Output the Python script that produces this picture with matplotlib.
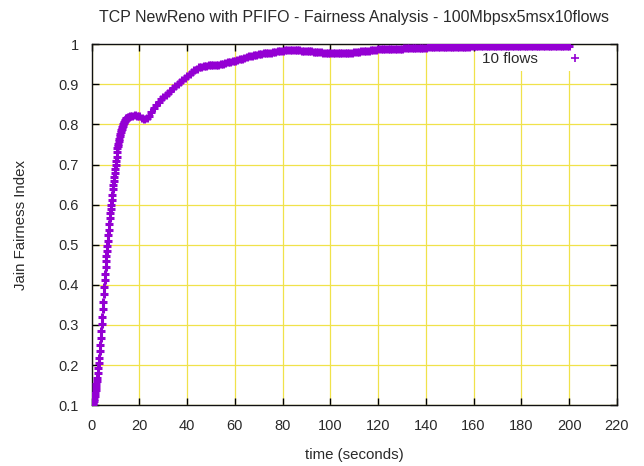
import matplotlib
matplotlib.use("Agg")
import matplotlib.pyplot as plt
import numpy as np

plt.rcParams['font.family'] = ['Liberation Sans', 'DejaVu Sans']

# ---- data ----
t_early = [0.2, 0.4, 0.6, 0.8, 1.0, 1.2, 1.4, 1.6, 1.8, 2.0, 2.2, 2.4, 2.6, 2.8, 3.0,
           3.2, 3.4, 3.6, 3.8, 4.0, 4.2, 4.4, 4.6, 4.8, 5.0, 5.2, 5.4, 5.6, 5.8, 6.0,
           6.2, 6.4, 6.6, 6.8, 7.0, 7.2, 7.4, 7.6, 7.8, 8.0, 8.2, 8.4, 8.6, 8.8, 9.0,
           9.2, 9.4, 9.6, 9.8, 10.0, 10.2, 10.4, 10.6, 10.8, 11.0, 11.2, 11.4, 11.6, 11.8, 12.0,
           12.2, 12.4, 12.6, 12.8, 13.0, 13.2, 13.4, 13.6, 13.8, 14.0, 14.2, 14.4, 14.6, 14.8, 15.0,
           15.5]
v_early = [0.100, 0.103, 0.106, 0.110, 0.115, 0.122, 0.130, 0.138, 0.146, 0.154, 0.161, 0.168, 0.180, 0.192, 0.204,
           0.218, 0.234, 0.251, 0.267, 0.285, 0.303, 0.321, 0.339, 0.357, 0.376, 0.395, 0.411, 0.428, 0.444, 0.460,
           0.472, 0.485, 0.497, 0.510, 0.524, 0.538, 0.552, 0.566, 0.578, 0.589, 0.600, 0.611, 0.623, 0.638, 0.650,
           0.660, 0.670, 0.680, 0.690, 0.700, 0.710, 0.720, 0.730, 0.740, 0.746, 0.752, 0.758, 0.764, 0.770, 0.776,
           0.781, 0.785, 0.789, 0.793, 0.797, 0.800, 0.803, 0.806, 0.809, 0.811, 0.813, 0.815, 0.816, 0.817, 0.818,
           0.819]

t_late = list(range(16, 201))
v_late = [0.820, 0.822, 0.823, 0.822, 0.820, 0.817, 0.813, 0.815, 0.822, 0.831,   # 16-25
          0.840, 0.848, 0.856, 0.863, 0.869, 0.874, 0.879, 0.884, 0.890, 0.896,   # 26-35
          0.901, 0.906, 0.911, 0.916, 0.921, 0.926, 0.931, 0.935, 0.939, 0.942,   # 36-45
          0.944, 0.945, 0.946, 0.947, 0.948, 0.948, 0.949, 0.949, 0.950, 0.951,   # 46-55
          0.953, 0.955, 0.956, 0.957, 0.959, 0.961, 0.963, 0.964, 0.966, 0.968,   # 56-65
          0.970, 0.971, 0.972, 0.974, 0.975, 0.976, 0.977, 0.978, 0.978, 0.979,   # 66-75
          0.980, 0.981, 0.982, 0.983, 0.984, 0.985, 0.985, 0.985, 0.985, 0.985,   # 76-85
          0.985, 0.985, 0.984, 0.984, 0.983, 0.982, 0.982, 0.981, 0.981, 0.980,   # 86-95
          0.980, 0.979, 0.979, 0.978, 0.978, 0.977, 0.977, 0.977, 0.977, 0.977,   # 96-105
          0.978, 0.978, 0.979, 0.979, 0.980, 0.981, 0.981, 0.982, 0.982, 0.983,   # 106-115
          0.984, 0.985, 0.986, 0.986, 0.987, 0.987, 0.987, 0.988, 0.988, 0.988,   # 116-125
          0.988, 0.989, 0.989, 0.989, 0.989, 0.990, 0.990, 0.990, 0.990, 0.990,   # 126-135
          0.991, 0.991, 0.991, 0.991, 0.991, 0.992, 0.992, 0.992, 0.992, 0.992,   # 136-145
          0.993, 0.993, 0.993, 0.993, 0.993, 0.993, 0.994, 0.994, 0.994, 0.994,   # 146-155
          0.994, 0.994, 0.994, 0.995, 0.995, 0.995, 0.995, 0.995, 0.995, 0.995,   # 156-165
          0.995, 0.995, 0.995, 0.995, 0.995, 0.995, 0.995, 0.996, 0.996, 0.996,   # 166-175
          0.996, 0.996, 0.996, 0.996, 0.996, 0.996, 0.996, 0.996, 0.996, 0.996,   # 176-185
          0.996, 0.996, 0.996, 0.996, 0.996, 0.996, 0.996, 0.996, 0.996, 0.996,   # 186-195
          0.996, 0.996, 0.996, 0.996, 0.996]                                      # 196-200

time_s = t_early + t_late
fairness = v_early + v_late
series_label = "10 flows"
x_ticks = list(range(0, 221, 20))
y_ticks = [0.1, 0.2, 0.3, 0.4, 0.5, 0.6, 0.7, 0.8, 0.9, 1.0]
y_tick_labels = ["0.1", "0.2", "0.3", "0.4", "0.5", "0.6", "0.7", "0.8", "0.9", "1"]

title = "TCP NewReno with PFIFO - Fairness Analysis - 100Mbpsx5msx10flows"
xlabel = "time (seconds)"
ylabel = "Jain Fairness Index"

# ---- figure ----
fig = plt.figure(figsize=(6.44, 4.66), dpi=100)
ax = fig.add_axes([91.7 / 644, 1 - 405.2 / 466, (616.8 - 91.7) / 644, (405.2 - 44.2) / 466])

txt = '#2a2a2a'
ax.plot(time_s, fairness, linestyle='none', marker='+', markersize=5.9,
        markeredgewidth=2.2, color='#9400d3', label=series_label, zorder=3)

ax.set_xlim(0, 220)
ax.set_ylim(0.1, 1.0)
ax.set_xticks(x_ticks)
ax.set_yticks(y_ticks)
ax.set_yticklabels(y_tick_labels)
ax.set_axisbelow(True)
ax.grid(True, color='#f0e24a', linewidth=0.9)

ax.tick_params(direction='in', length=5, width=1, top=True, right=True,
               labelsize=10.5, labelcolor=txt)
ax.tick_params(axis='x', pad=10)
ax.tick_params(axis='y', pad=9)
for sp in ax.spines.values():
    sp.set_linewidth(1.0)
    sp.set_color('#111111')

ax.set_title(title, fontsize=11.5, color=txt, pad=16)
ax.set_xlabel(xlabel, fontsize=10.8, color=txt, labelpad=11)
ax.set_ylabel(ylabel, fontsize=10.8, color=txt, labelpad=22)

leg = ax.legend(loc='upper right', bbox_to_anchor=(0.9577, 0.99), borderaxespad=0,
                markerfirst=False, handletextpad=1.4, handlelength=2.0,
                frameon=True, fancybox=False, facecolor='white', edgecolor='none',
                framealpha=1.0, fontsize=11, borderpad=0.3)
for t in leg.get_texts():
    t.set_color(txt)
leg.legend_handles[0].set_markeredgewidth(1.2)
leg.legend_handles[0].set_markersize(5.4)
leg.set_zorder(1)

fig.savefig("out.png", dpi=100)
